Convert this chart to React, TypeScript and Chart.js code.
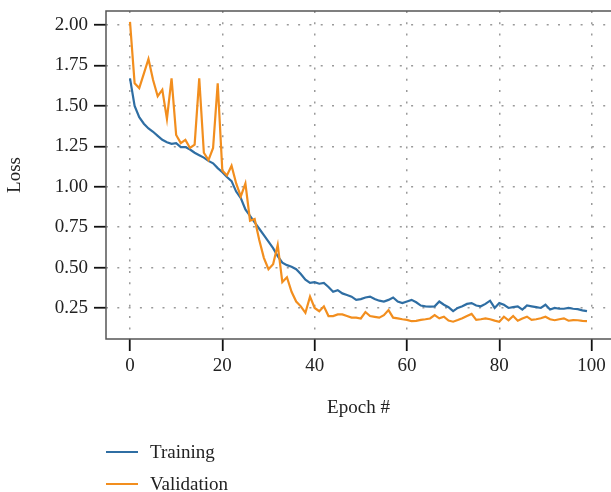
import React, { useEffect, useRef } from 'react';
import { Chart, registerables } from 'chart.js';

Chart.register(...registerables);

const epochs: number[] = [
  0, 1, 2, 3, 4, 5, 6, 7, 8, 9, 10, 11, 12, 13, 14, 15, 16, 17, 18, 19,
  20, 21, 22, 23, 24, 25, 26, 27, 28, 29, 30, 31, 32, 33, 34, 35, 36, 37, 38, 39,
  40, 41, 42, 43, 44, 45, 46, 47, 48, 49, 50, 51, 52, 53, 54, 55, 56, 57, 58, 59,
  60, 61, 62, 63, 64, 65, 66, 67, 68, 69, 70, 71, 72, 73, 74, 75, 76, 77, 78, 79,
  80, 81, 82, 83, 84, 85, 86, 87, 88, 89, 90, 91, 92, 93, 94, 95, 96, 97, 98, 99,
];

const trainingLoss: number[] = [
  1.67, 1.5, 1.43, 1.39, 1.36, 1.34, 1.315, 1.29, 1.275, 1.265,
  1.27, 1.245, 1.245, 1.23, 1.21, 1.195, 1.18, 1.16, 1.145, 1.115,
  1.09, 1.06, 1.035, 0.97, 0.93, 0.86, 0.82, 0.78, 0.74, 0.7,
  0.66, 0.62, 0.57, 0.53, 0.515, 0.505, 0.49, 0.46, 0.425, 0.405,
  0.41, 0.4, 0.405, 0.38, 0.35, 0.36, 0.34, 0.33, 0.32, 0.3,
  0.305, 0.315, 0.32, 0.305, 0.295, 0.29, 0.3, 0.315, 0.29, 0.28,
  0.29, 0.3, 0.285, 0.265, 0.26, 0.258, 0.26, 0.29, 0.27, 0.255,
  0.23, 0.25, 0.26, 0.275, 0.28, 0.265, 0.26, 0.275, 0.295, 0.25,
  0.28, 0.27, 0.25, 0.255, 0.26, 0.24, 0.265, 0.26, 0.255, 0.25,
  0.27, 0.24, 0.25, 0.245, 0.245, 0.25, 0.245, 0.243, 0.235, 0.23,
];

const validationLoss: number[] = [
  2.02, 1.64, 1.61, 1.7, 1.79, 1.66, 1.56, 1.6, 1.42, 1.67,
  1.32, 1.27, 1.29, 1.24, 1.26, 1.67, 1.21, 1.165, 1.24, 1.64,
  1.1, 1.07, 1.13, 1.02, 0.94, 1.02, 0.79, 0.8, 0.67, 0.56,
  0.49, 0.52, 0.64, 0.41, 0.44, 0.35, 0.29, 0.26, 0.22, 0.32,
  0.25, 0.23, 0.26, 0.2, 0.2, 0.21, 0.21, 0.2, 0.19, 0.19,
  0.185, 0.225, 0.2, 0.195, 0.19, 0.205, 0.237, 0.19, 0.186, 0.18,
  0.176, 0.168, 0.17, 0.176, 0.18, 0.185, 0.206, 0.186, 0.196, 0.172,
  0.165, 0.175, 0.186, 0.2, 0.213, 0.176, 0.18, 0.186, 0.18, 0.172,
  0.165, 0.196, 0.174, 0.2, 0.171, 0.185, 0.196, 0.176, 0.18, 0.186,
  0.196, 0.18, 0.174, 0.18, 0.186, 0.171, 0.175, 0.174, 0.17, 0.168,
];

const seriesNames = ['Training', 'Validation'];
const xTitle = 'Epoch #';
const yTitle = 'Loss';

const BLUE = '#2f6ea3';
const ORANGE = '#f28e1e';
const FONT = "'Liberation Serif', 'Times New Roman', serif";

const boxPlugin = {
  id: 'boxPlugin',
  beforeDatasetsDraw(chart: any) {
    const { ctx, chartArea } = chart;
    ctx.save();
    ctx.strokeStyle = '#555';
    ctx.lineWidth = 1.5;
    ctx.strokeRect(chartArea.left, chartArea.top, chartArea.right - chartArea.left + 4, chartArea.bottom - chartArea.top);
    ctx.restore();
  },
};

if (typeof document !== 'undefined') document.body.style.margin = '0';

export default function App() {
  const ref = useRef<HTMLCanvasElement | null>(null);

  useEffect(() => {
    document.body.style.margin = '0';
    if (!ref.current) return;
    const chart = new Chart(ref.current, {
      type: 'line',
      data: {
        datasets: [
          {
            label: seriesNames[0],
            data: epochs.map((e, i) => ({ x: e, y: trainingLoss[i] })),
            borderColor: BLUE,
            backgroundColor: BLUE,
            borderWidth: 2.2,
            pointRadius: 0,
            tension: 0,
            order: 1,
          },
          {
            label: seriesNames[1],
            data: epochs.map((e, i) => ({ x: e, y: validationLoss[i] })),
            borderColor: ORANGE,
            backgroundColor: ORANGE,
            borderWidth: 2.2,
            pointRadius: 0,
            tension: 0,
            order: 0,
          },
        ],
      },
      options: {
        animation: false,
        responsive: false,
        devicePixelRatio: 1,
        layout: { padding: { left: 0, right: 0, top: 11, bottom: 73 } },
        plugins: {
          legend: { display: false },
          tooltip: { enabled: false },
        },
        scales: {
          x: {
            type: 'linear',
            min: -5.2,
            max: 104.2,
            afterFit: (s: any) => {
              s.height = 80;
              s.paddingLeft = 0;
              s.paddingRight = 0;
            },
            ticks: {
              stepSize: 20,
              includeBounds: false,
              padding: 4,
              color: '#222',
              font: { family: FONT, size: 19 },
              maxRotation: 0,
            },
            grid: {
              color: '#9a9a9a',
              lineWidth: 1.5,
              tickLength: 12,
              tickColor: '#111',
              tickWidth: 1.8,
              tickBorderDash: [],
            },
            border: { display: false, dash: [2, 9.3] },
            title: {
              display: true,
              text: xTitle,
              color: '#222',
              font: { family: FONT, size: 19 },
              padding: { top: 0, bottom: 0 },
            },
          },
          y: {
            type: 'linear',
            min: 0.058,
            max: 2.087,
            afterFit: (s: any) => {
              s.width = 106;
              s.paddingTop = 0;
              s.paddingBottom = 0;
            },
            ticks: {
              stepSize: 0.25,
              includeBounds: false,
              padding: 6,
              color: '#222',
              font: { family: FONT, size: 19 },
              callback: (v: any) => Number(v).toFixed(2),
            },
            grid: {
              color: '#9a9a9a',
              lineWidth: 1.5,
              tickLength: 12,
              tickColor: '#111',
              tickWidth: 1.8,
              tickBorderDash: [],
            },
            border: { display: false, dash: [2, 9.3] },
            title: {
              display: true,
              text: yTitle,
              color: '#222',
              font: { family: FONT, size: 19 },
              padding: { top: 4, bottom: 0 },
            },
          },
        },
      },
      plugins: [boxPlugin],
    } as any);
    return () => chart.destroy();
  }, []);

  const legendItem = (name: string, color: string, top: number) => (
    <div key={name} style={{ position: 'absolute', left: 106, top: top - 12, height: 24, display: 'flex', alignItems: 'center' }}>
      <div style={{ width: 32, height: 2, background: color }} />
      <span style={{ marginLeft: 12, fontFamily: FONT, fontSize: 19, color: '#222', lineHeight: '24px' }}>{name}</span>
    </div>
  );

  return (
    <div style={{ position: 'relative', width: 611, height: 492, overflow: 'hidden', background: '#fff' }}>
      <canvas ref={ref} width={611} height={492} style={{ position: 'absolute', left: 0, top: 0, width: 611, height: 492 }} />
      {legendItem(seriesNames[0], BLUE, 452)}
      {legendItem(seriesNames[1], ORANGE, 484)}
    </div>
  );
}
